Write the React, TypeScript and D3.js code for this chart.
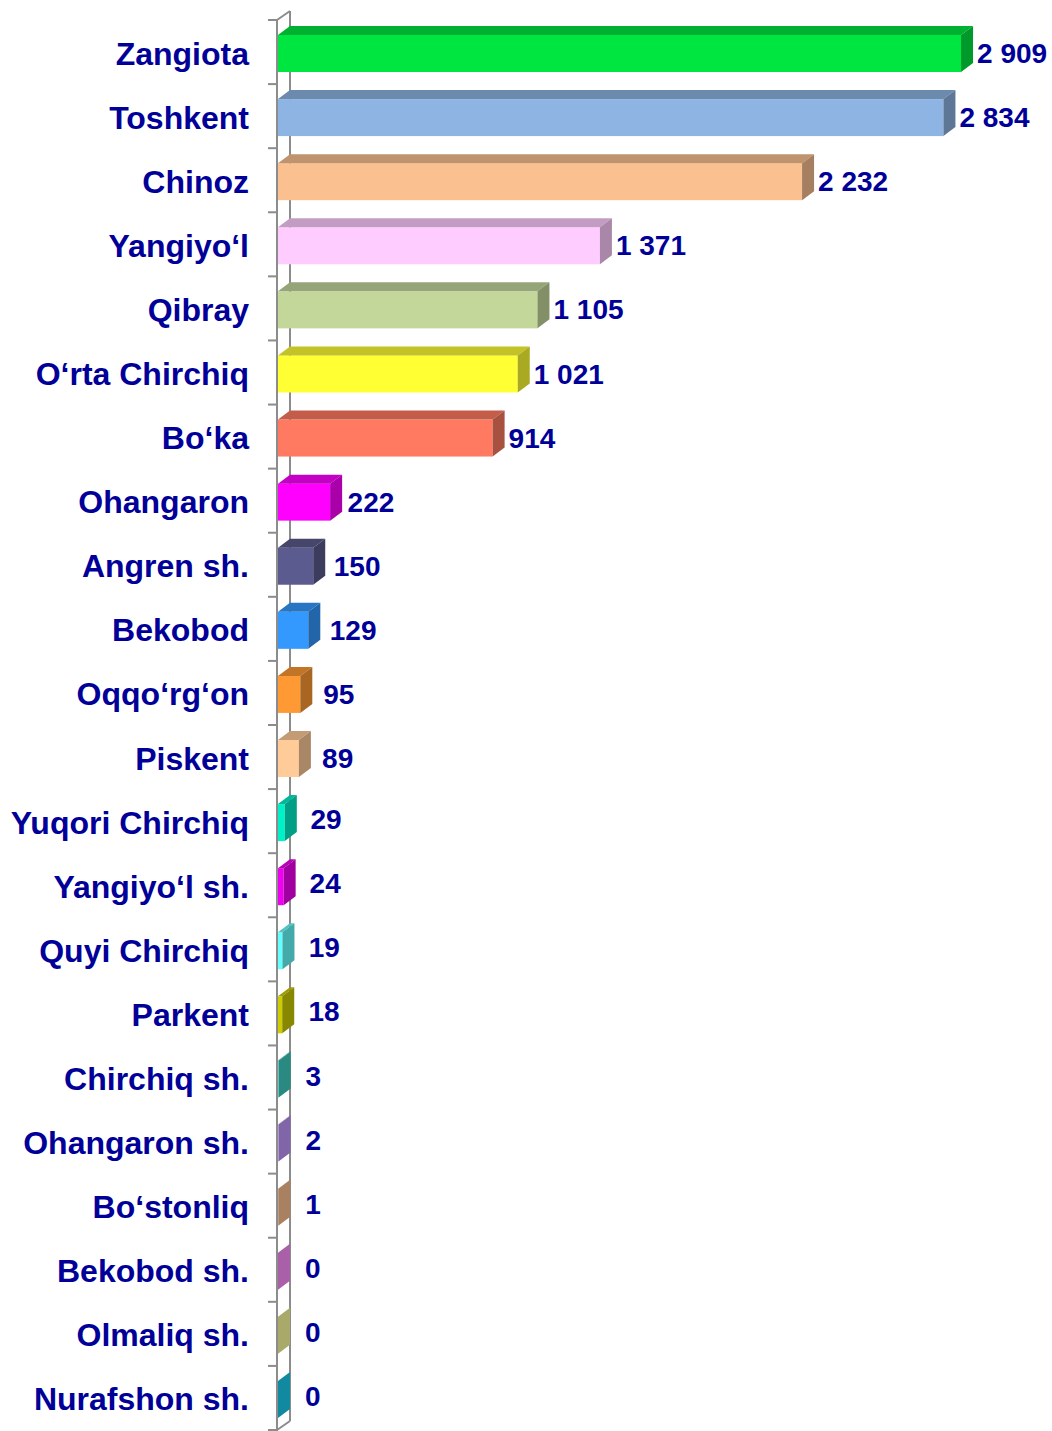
import React from "react";
import * as d3 from "d3";

const categories = [
  "Zangiota", "Toshkent", "Chinoz", "Yangiyo‘l", "Qibray", "O‘rta Chirchiq", "Bo‘ka",
  "Ohangaron", "Angren sh.", "Bekobod", "Oqqo‘rg‘on", "Piskent", "Yuqori Chirchiq",
  "Yangiyo‘l sh.", "Quyi Chirchiq", "Parkent", "Chirchiq sh.", "Ohangaron sh.",
  "Bo‘stonliq", "Bekobod sh.", "Olmaliq sh.", "Nurafshon sh.",
];

const values = [2909, 2834, 2232, 1371, 1105, 1021, 914, 222, 150, 129, 95, 89, 29, 24, 19, 18, 3, 2, 1, 0, 0, 0];

const barColors = [
  "#00E640", "#8DB4E2", "#FAC090", "#FFCCFF", "#C4D79B", "#FFFF33", "#FF7A61",
  "#FF00FF", "#5B5B8F", "#3399FF", "#FF9933", "#FFCC99", "#00F0C8",
  "#F000F0", "#66FFFF", "#CCCC00", "#40D0C2", "#C298FF",
  "#FFC291", "#FF91FF", "#FFFF9E", "#18CEF2",
];

const W = 1052;
const H = 1431;
const DX = 12;
const DY = 9;
const TEXT = "#000099";
const AXIS = "#8C8C8C";
const FONT = "'Liberation Sans', Arial, sans-serif";

const fmt = d3.formatLocale({ thousands: " ", grouping: [3], decimal: ".", currency: ["", ""] }).format(",");

export default function App() {
  const y = d3.scaleBand<string>().domain(categories).range([20, 1430]).padding(0);
  const x = d3.scaleLinear().domain([0, 3000]).range([278, 982.4]);
  const step = y.step();
  const x0 = x(0);

  const labelX = (v: number) => {
    const w = x(v) - x0;
    const gap = w < 60 ? 4 + 11 * (1 - w / 60) : 4;
    return x(v) + DX + gap;
  };

  return (
    <svg width={W} height={H} style={{ position: "absolute", left: 0, top: 0, background: "#fff" }}>
      {/* back wall line */}
      <line x1={x0 + DX} y1={20 - DY} x2={x0 + DX} y2={1430 - DY} stroke={AXIS} strokeWidth={2} />
      <line x1={x0 - 1} y1={20} x2={x0 + DX} y2={20 - DY} stroke={AXIS} strokeWidth={2} />
      <line x1={x0 - 1} y1={1430} x2={x0 + DX} y2={1430 - DY} stroke={AXIS} strokeWidth={2} />
      {/* bars */}
      {categories.map((c, i) => {
        const v = values[i];
        const col = d3.color(barColors[i])!;
        const top = col.darker(0.75).formatHex();
        const side = col.darker(1.15).formatHex();
        const x1 = x(v);
        const yt = (y(c) as number) + 15;
        const h = 37;
        return (
          <g key={c}>
            <rect x={x0} y={yt} width={Math.max(0, x1 - x0)} height={h} fill={barColors[i]} />
            <polygon
              points={`${x0},${yt} ${x1},${yt} ${x1 + DX},${yt - DY} ${x0 + DX},${yt - DY}`}
              fill={top}
            />
            <polygon
              points={`${x1},${yt} ${x1 + DX},${yt - DY} ${x1 + DX},${yt + h - DY} ${x1},${yt + h}`}
              fill={side}
            />
          </g>
        );
      })}
      {/* front axis line and ticks */}
      <line x1={x0 - 1} y1={20} x2={x0 - 1} y2={H} stroke={AXIS} strokeWidth={2} />
      {d3.range(categories.length + 1).map((k) => (
        <line key={k} x1={268} x2={x0 - 1} y1={20 + k * step} y2={20 + k * step} stroke={AXIS} strokeWidth={2} />
      ))}
      {/* category labels */}
      {categories.map((c) => (
        <text
          key={c}
          x={249}
          y={(y(c) as number) + step / 2 + 1}
          dy="0.36em"
          textAnchor="end"
          fontFamily={FONT}
          fontWeight="bold"
          fontSize={32}
          fill={TEXT}
        >
          {c}
        </text>
      ))}
      {/* value labels */}
      {categories.map((c, i) => (
        <text
          key={c + "v"}
          x={labelX(values[i])}
          y={(y(c) as number) + step / 2 + (values[i] < 50 ? -2 : 1)}
          dy="0.36em"
          fontFamily={FONT}
          fontWeight="bold"
          fontSize={28}
          fill={TEXT}
        >
          {fmt(values[i])}
        </text>
      ))}
    </svg>
  );
}
